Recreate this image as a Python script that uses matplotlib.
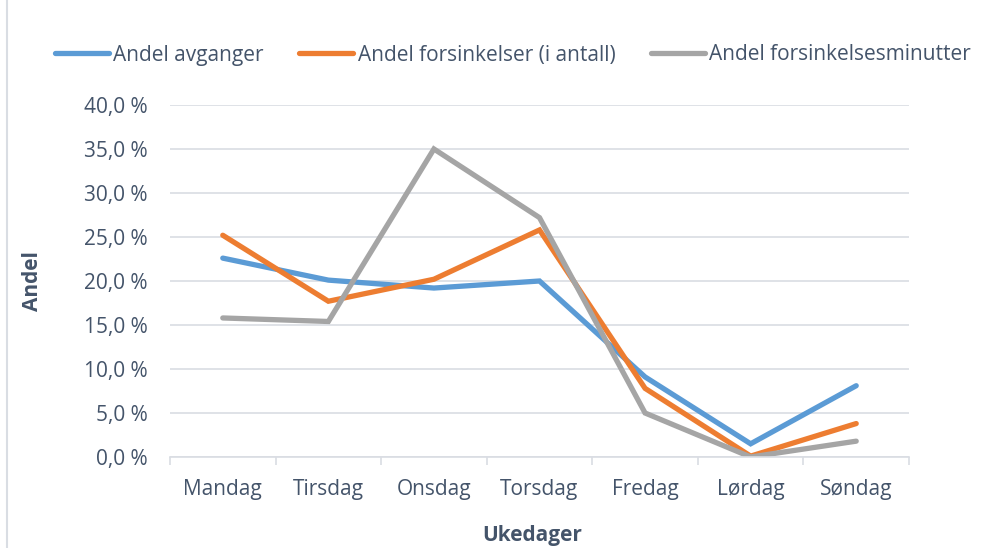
import matplotlib.pyplot as plt
from matplotlib.ticker import FuncFormatter, FixedLocator
from matplotlib.lines import Line2D
import numpy as np

# data
days = ['Mandag', 'Tirsdag', 'Onsdag', 'Torsdag', 'Fredag', 'Lørdag', 'Søndag']
andel_avganger = [22.6, 20.1, 19.2, 20.0, 9.1, 1.5, 8.1]
andel_forsinkelser = [25.2, 17.7, 20.2, 25.8, 7.8, 0.1, 3.8]
andel_minutter = [15.8, 15.4, 35.0, 27.2, 5.0, 0.0, 1.8]
series_names = ['Andel avganger', 'Andel forsinkelser (i antall)', 'Andel forsinkelsesminutter']
colors = ['#5B9BD5', '#ED7D31', '#A5A5A5']

txt = '#44546A'
grid = '#D9DDE3'
fs = 15
plt.rcParams['font.family'] = ['Open Sans', 'DejaVu Sans']

fig = plt.figure(figsize=(9.89, 5.48), dpi=100)
ax = fig.add_axes([170/989, 1-457/548, 739/989, 352/548])

x = np.arange(len(days))
for vals, c, name in zip([andel_avganger, andel_forsinkelser, andel_minutter], colors, series_names):
    ax.plot(x, vals, color=c, lw=3.8, solid_capstyle='round', solid_joinstyle='miter', label=name)

ax.set_xlim(-0.5, len(days) - 0.5)
ax.set_ylim(0, 40)
ax.set_yticks(np.arange(0, 41, 5))
ax.yaxis.set_major_formatter(FuncFormatter(lambda v, p: f'{v:.1f} %'.replace('.', ',')))
ax.set_xticks(x)
ax.set_xticklabels(days)
ax.xaxis.set_minor_locator(FixedLocator(np.arange(-0.5, len(days), 1)))

ax.grid(axis='y', color=grid, lw=1.2)
ax.set_axisbelow(True)
for s in ['top', 'right', 'left']:
    ax.spines[s].set_visible(False)
ax.spines['bottom'].set_color(grid)
ax.spines['bottom'].set_linewidth(1.2)
ax.tick_params(axis='y', length=0, labelsize=fs, labelcolor=txt, pad=16)
ax.tick_params(axis='x', which='major', length=0, labelsize=fs, labelcolor=txt, pad=16)
ax.tick_params(axis='x', which='minor', length=6, color=grid, width=1.2)

fig.text(33/989, 1-281/548, 'Andel', rotation=90, ha='center', va='center',
         fontsize=fs, fontweight='bold', color=txt)
fig.text(532/989, 1-535/548, 'Ukedager', ha='center', va='center',
         fontsize=fs, fontweight='bold', color=txt)

handles = [Line2D([0], [0], color=c, lw=3.8, solid_capstyle='round') for c in colors]
fig.legend(handles, series_names, loc='center', bbox_to_anchor=(513/989, 1-55/548),
           ncol=3, frameon=False, fontsize=fs, labelcolor=txt, handlelength=2.6,
           handletextpad=0.2, columnspacing=1.7)

fig.add_artist(Line2D([7/989, 7/989], [0, 1], color=grid, lw=1.5))

fig.savefig('out.png', dpi=100)
